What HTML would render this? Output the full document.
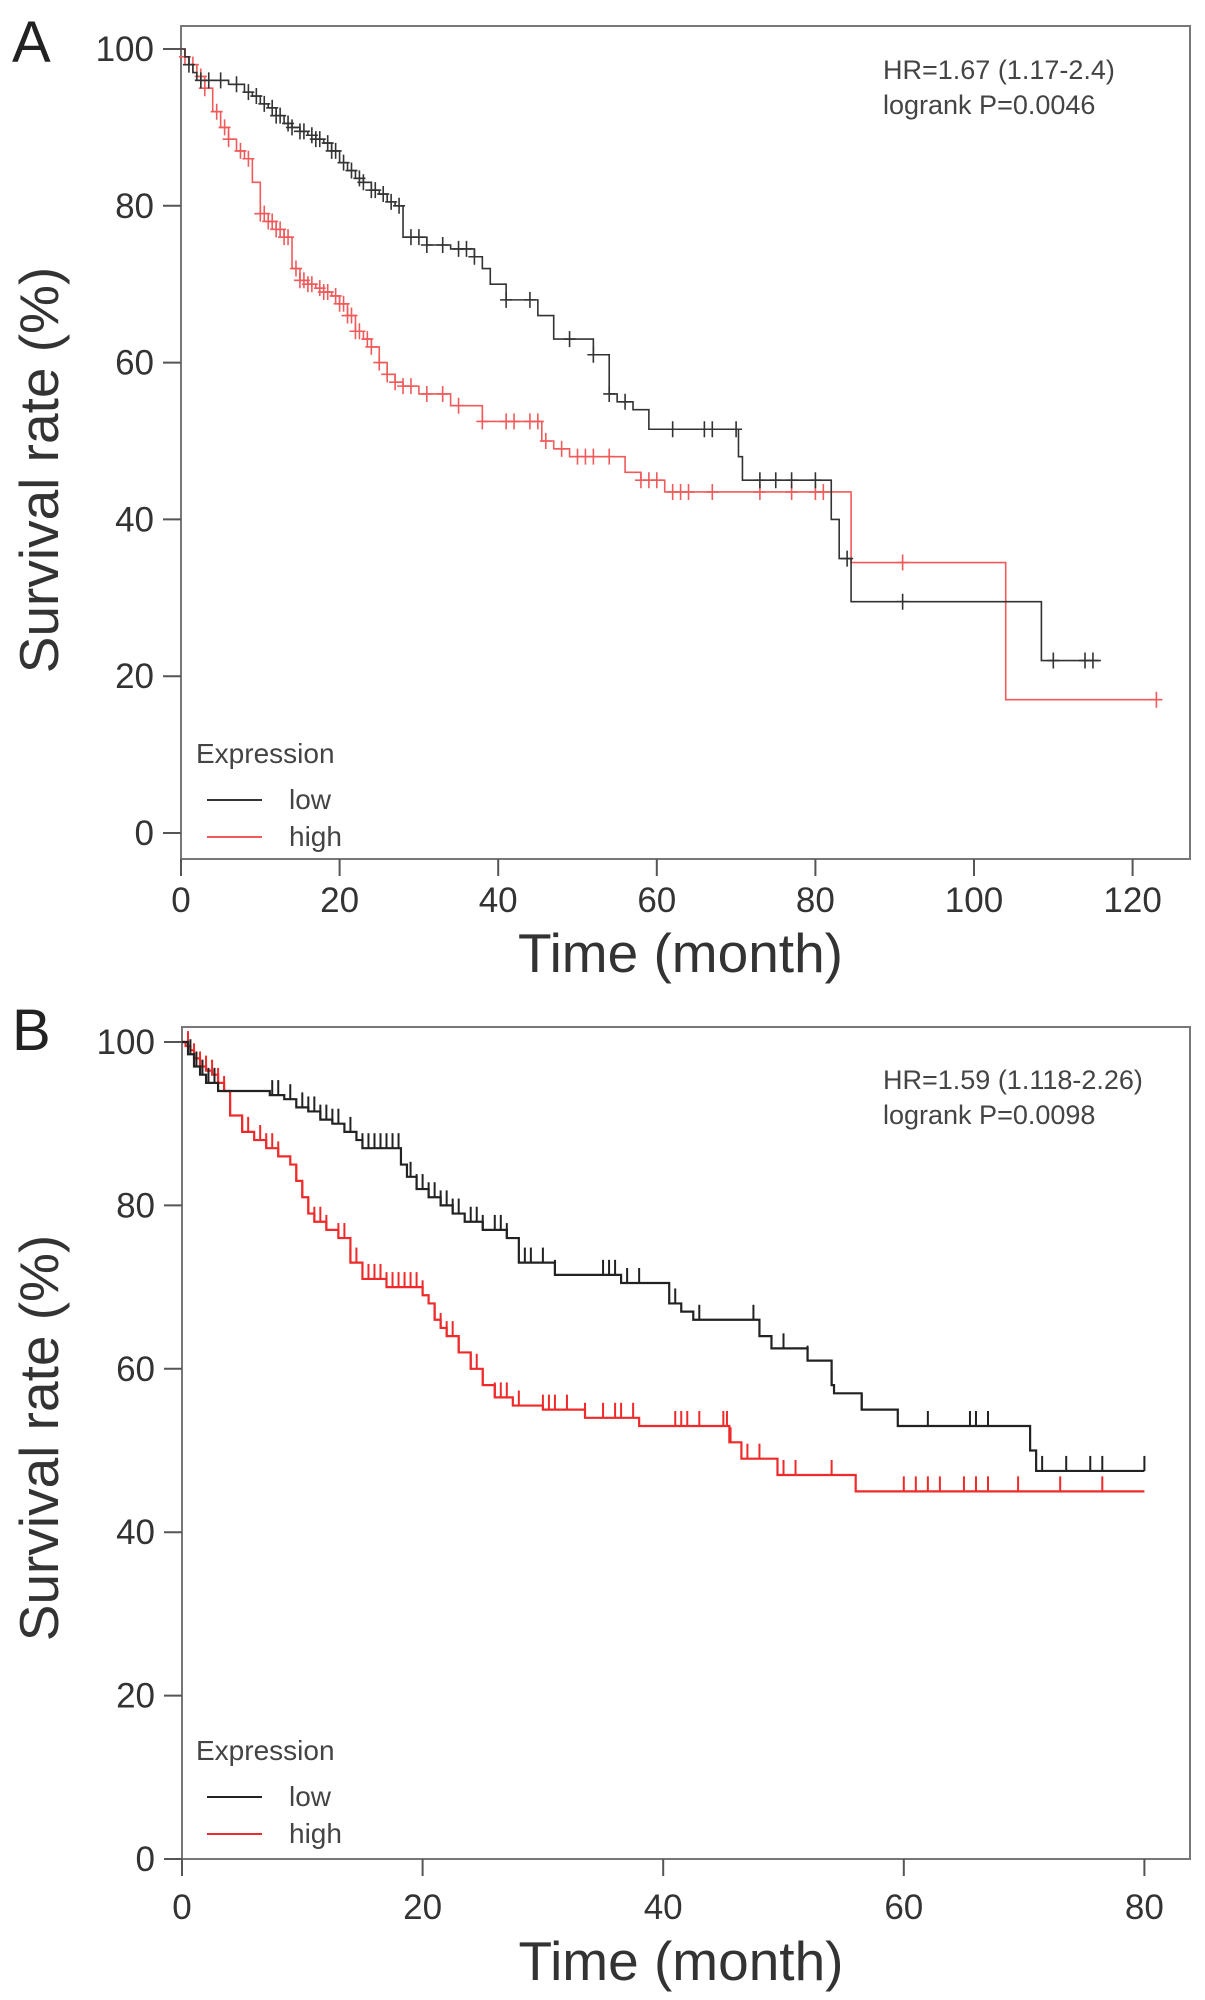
<!DOCTYPE html>
<html><head><meta charset="utf-8">
<style>
html,body{margin:0;padding:0;background:#fff;}
svg{display:block;font-family:"Liberation Sans",sans-serif;}
</style></head>
<body>
<svg id="fig" width="1205" height="2000" viewBox="0 0 1205 2000" xmlns="http://www.w3.org/2000/svg"></svg>
<script>
// ---------- Panel A data ----------
const aXTicks = [0,20,40,60,80,100,120];
const aYTicks = [0,20,40,60,80,100];
const aLowTimes = [0,0.5,1,1.5,2,6,8,9,10,11,12,13,14,15,16,17,18,19,20,21,22,23,24,25,26,27,28,29,31,34,37,38,39,41,45,47,52,54,55,57,59,70.3,70.8,82,83,84.5,108.5];
const aLowSurv  = [100,99,98,97,96,95.5,94.5,94,93,92.5,91.5,90.5,90,89.5,89,88.5,88,87,85.5,84.5,83.5,83,82,81.5,80.5,80,76,76,75,74.5,73.5,72,70,68,66,63,61,56,55,54,51.5,48,45,40,35,29.5,22];
const aLowEnd = 116;
const aLowCensor = [1,2.5,3.5,5,7,8.5,9.5,10.5,11.5,12,12.5,13.5,14,15,15.5,16.5,17,17.5,18.5,19,19.5,20.5,21.5,22.5,23,24,24.5,25.5,26.5,27.5,29,30,31,33,35,36,37,41,44,49,52,54,56,62,66,67,70,73,75,77,80,84,91,110,114,115];
const aHighTimes = [0,0.5,1,2,3,4,5,6,7,8,9,10,11,12,13,14,15,16,17,18,19,20,21,22,23,24,25,26,27,28,30,34,38,45.5,47,49,56,58,61,84.5,104];
const aHighSurv  = [100,99,98,96.5,95,92,90,88.5,87,86,83,79,78,77,76,72,70.5,70,69.5,69,68.5,67.5,66,64,63,62,60,58.5,57.5,57,56,54.5,52.5,50,49,48,46,45,43.5,34.5,17];
const aHighEnd = 123;
const aHighCensor = [0.5,1.5,2.5,3,4.5,5.5,6,7.5,8.5,10,10.5,11,11.5,12,12.5,13,13.5,14.5,15,15.5,16,16.5,17.5,18,18.5,19.5,20,20.5,21,21.5,22,22.5,23.5,24,25,26,27,28,29,31,33,35,38,41,42,44,45,46,48,50,51,52,54,58,59,60,62,63,64,67,73,77,80,81,91,123];

// ---------- Panel B data ----------
const bXTicks = [0,20,40,60,80];
const bYTicks = [0,20,40,60,80,100];
const bLowTimes = [0,0.5,1,1.5,2,3,7.3,8.5,9.5,10.5,11.5,12.5,13.5,14.5,15,18.2,18.7,19.5,20.5,21.5,22.5,23.5,25,27,28,31,36.5,40.5,41.5,42.5,48,49,52,54,54.2,56.5,59.5,70.5,71];
const bLowSurv  = [100,98.5,97,96,95,94,93.5,93,92,91.5,90.5,90,89,88,87,85,83.5,82,81,80,79,78,77,76,73,71.5,70.5,68,67,66,64,62.5,61,58,57,55,53,50,47.5];
const bLowEnd = 80;
const bLowCensor = [0.7,1.2,1.7,2.2,2.7,7.5,8,9,10,10.5,11,11.5,12,12.5,13,14,15,15.5,16,16.5,17,17.5,18,19,19.5,20,20.5,21,21.5,22,22.5,23,24,24.5,25,26,26.5,27,28.5,29,30,31,35,35.5,36,37,38,41,43,47.5,50,52,54,56.5,62,65.5,66,67,71.5,73.5,75.5,76.5,80];
const bHighTimes = [0,0.3,0.7,1,1.5,2,2.5,3,3.5,4,5,6,7,8,9,9.5,10,10.5,11,12,13,14,15,17,20,20.5,21,21.5,22,23,24,25,26,27.5,30,33.5,38,45.5,46.5,49.5,56];
const bHighSurv  = [100,99.5,99,98,97,96.5,96,95,94,91,89,88,87,86,85,83,81,79,78,77,76,73,71,70,69,68,66,65,64,62,60,58,56.5,55.5,55,54,53,51,49,47,45];
const bHighEnd = 80;
const bHighCensor = [0.5,1,1.5,2,2.5,3,3.5,4,5,5.5,6.5,7,7.5,8,9.5,10,10.5,11,11.5,12,13,13.5,14,14.5,15.5,16,16.5,17,17.5,18,18.5,19,19.5,20,21,21.5,22,22.5,23,24,24.5,25,26,26.5,27,28,30,30.5,31,32,33.5,35,36,36.5,37.5,41,41.5,42,43,45,45.3,45.6,47,48,50,51,54,60,61,62,63,65,66,67,69.5,73,76.5];

const NS = 'http://www.w3.org/2000/svg';
const svg = document.getElementById('fig');
function mk(tag, attrs, parent){
  const e = document.createElementNS(NS, tag);
  for (const k in attrs) e.setAttribute(k, attrs[k]);
  (parent||svg).appendChild(e);
  return e;
}
function txt(str, attrs, parent){
  const e = mk('text', attrs, parent);
  e.textContent = str;
  return e;
}
function survAt(times, surv, t){
  let s = surv[0];
  for (let i=0;i<times.length;i++){ if (times[i] <= t) s = surv[i]; }
  return s;
}

function drawPanel(cfg){
  const g = mk('g', {});
  
  
  const X = v => cfg.x0 + v*cfg.xs;
  const Y = v => cfg.y0 - v*cfg.ys;
  const frame = mk('rect', {x:cfg.left, y:cfg.top, width:cfg.right-cfg.left, height:cfg.bottom-cfg.top, fill:'none', stroke:'#777', 'stroke-width':2}, g);
  
  
  cfg.yTicks.forEach(v=>{
    const tl = mk('line', {x1:cfg.left-18, x2:cfg.left, y1:Y(v), y2:Y(v), stroke:'#555', 'stroke-width':2}, g);
    
    
    const t = txt(String(v), {x:cfg.left-27, y:Y(v)+12, 'text-anchor':'end', 'font-size':35, fill:'#333'}, g);
    
    
  });
  cfg.xTicks.forEach(v=>{
    const tl = mk('line', {x1:X(v), x2:X(v), y1:cfg.bottom, y2:cfg.bottom+17, stroke:'#555', 'stroke-width':2}, g);
    
    
    const t = txt(String(v), {x:X(v), y:cfg.xLabelY, 'text-anchor':'middle', 'font-size':35, fill:'#333'}, g);
    
    
  });
  const xt = txt('Time (month)', {x:(cfg.left+cfg.right)/2 - 5, y:cfg.xTitleY, 'text-anchor':'middle', 'font-size':55, fill:'#333'}, g);
  
  
  const yt = txt('Survival rate (%)', {x:0, y:0, 'text-anchor':'middle', 'font-size':55, fill:'#333', transform:`translate(58,${cfg.yTitleY}) rotate(-90)`}, g);
  
  
  const pl = txt(cfg.letter, {x:12, y:cfg.letterY, 'font-size':58, fill:'#222'}, g);
  
  
  const s1 = txt(cfg.hr, {x:883, y:cfg.hrY, 'font-size':27, fill:'#444'}, g);
  
  
  const s2 = txt(cfg.p, {x:883, y:cfg.hrY+35, 'font-size':27, fill:'#444'}, g);
  
  
  const lg = mk('g', {}, g);
  
  
  const lt = txt('Expression', {x:196, y:cfg.legY, 'font-size':28, fill:'#444'}, lg);
  
  
  [['low',cfg.lowColor,cfg.legY+46],['high',cfg.highColor,cfg.legY+83]].forEach(([n,c,yy])=>{
    const ln = mk('line', {x1:207, x2:262, y1:yy-9, y2:yy-9, stroke:c, 'stroke-width':2}, lg);
    
    
    const tx = txt(n, {x:289, y:yy, 'font-size':28, fill:'#444'}, lg);
    
    
  });
  function curve(times, surv, end, censor, color, name){
    let d = `M${X(times[0])},${Y(surv[0])}`;
    for (let i=1;i<times.length;i++){
      d += ` H${X(times[i])} V${Y(surv[i])}`;
    }
    d += ` H${X(end)}`;
    const p = mk('path', {d, fill:'none', stroke:color, 'stroke-width':cfg.lw}, g);
    
    
    censor.forEach(t=>{
      const yy = Y(survAt(times, surv, t));
      let cd;
      if (cfg.plus) cd = `M${X(t)},${yy-8} V${yy+8} M${X(t)-6},${yy} H${X(t)+6}`;
      else cd = `M${X(t)},${yy} V${yy-15}`;
      const c = mk('path', {d:cd, fill:'none', stroke:color, 'stroke-width':cfg.plus?1.6:2}, g);
      
      
    });
  }
  curve(cfg.highT, cfg.highS, cfg.highE, cfg.highC, cfg.highColor, 'high');
  curve(cfg.lowT, cfg.lowS, cfg.lowE, cfg.lowC, cfg.lowColor, 'low');
}

drawPanel({name:'panel-a', letter:'A', letterY:62, left:181, right:1190, top:26, bottom:859,
  x0:181, xs:7.93, y0:833, ys:7.84, xTicks:aXTicks, yTicks:aYTicks, xLabelY:912, xTitleY:972, yTitleY:470,
  hr:'HR=1.67 (1.17-2.4)', p:'logrank P=0.0046', hrY:79, legY:763,
  lowT:aLowTimes, lowS:aLowSurv, lowE:aLowEnd, lowC:aLowCensor,
  highT:aHighTimes, highS:aHighSurv, highE:aHighEnd, highC:aHighCensor,
  lowColor:'#333', highColor:'#f05a5a', lw:1.6, plus:true});

drawPanel({name:'panel-b', letter:'B', letterY:1050, left:182, right:1190, top:1027, bottom:1859,
  x0:182, xs:12.03, y0:1859, ys:8.17, xTicks:bXTicks, yTicks:bYTicks, xLabelY:1919, xTitleY:1980, yTitleY:1438,
  hr:'HR=1.59 (1.118-2.26)', p:'logrank P=0.0098', hrY:1089, legY:1760,
  lowT:bLowTimes, lowS:bLowSurv, lowE:bLowEnd, lowC:bLowCensor,
  highT:bHighTimes, highS:bHighSurv, highE:bHighEnd, highC:bHighCensor,
  lowColor:'#222', highColor:'#ee2a2a', lw:2.2, plus:false});
</script>
</body></html>
